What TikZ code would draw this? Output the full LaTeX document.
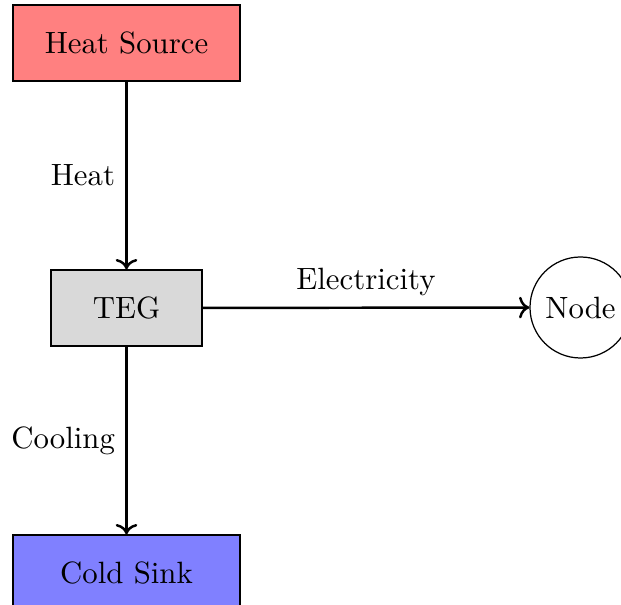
\documentclass[tikz,border=0pt]{standalone}
\usetikzlibrary{arrows.meta}
\begin{document}
\begin{tikzpicture}[x=0.3247pt,y=-0.3247pt,
  box/.style={draw, rectangle, minimum height=24.7pt, inner sep=0pt},
  wide/.style={box, minimum width=73.7pt},
  narrow/.style={box, minimum width=49pt},
  endnode/.style={draw, circle, minimum size=32.8pt, inner sep=0pt},
  flow/.style={->, thick}]
\useasboundingbox (0,0) rectangle (621,605);
\node[wide, fill=red!50] (src) at (126.5,43) {Heat Source};
\node[narrow, fill=gray!30] (teg) at (126.5,308) {TEG};
\node[wide, fill=blue!50] (sink) at (126.5,573) {Cold Sink};
\node[endnode] (out) at (580.5,307.5) {Node};
\draw[flow] (src) -- node[midway, left] {Heat} (teg);
\draw[flow] (teg) -- node[midway, left] {Cooling} (sink);
\draw[flow] (teg) -- node[midway, above] {Electricity} (out);
\end{tikzpicture}
\end{document}
